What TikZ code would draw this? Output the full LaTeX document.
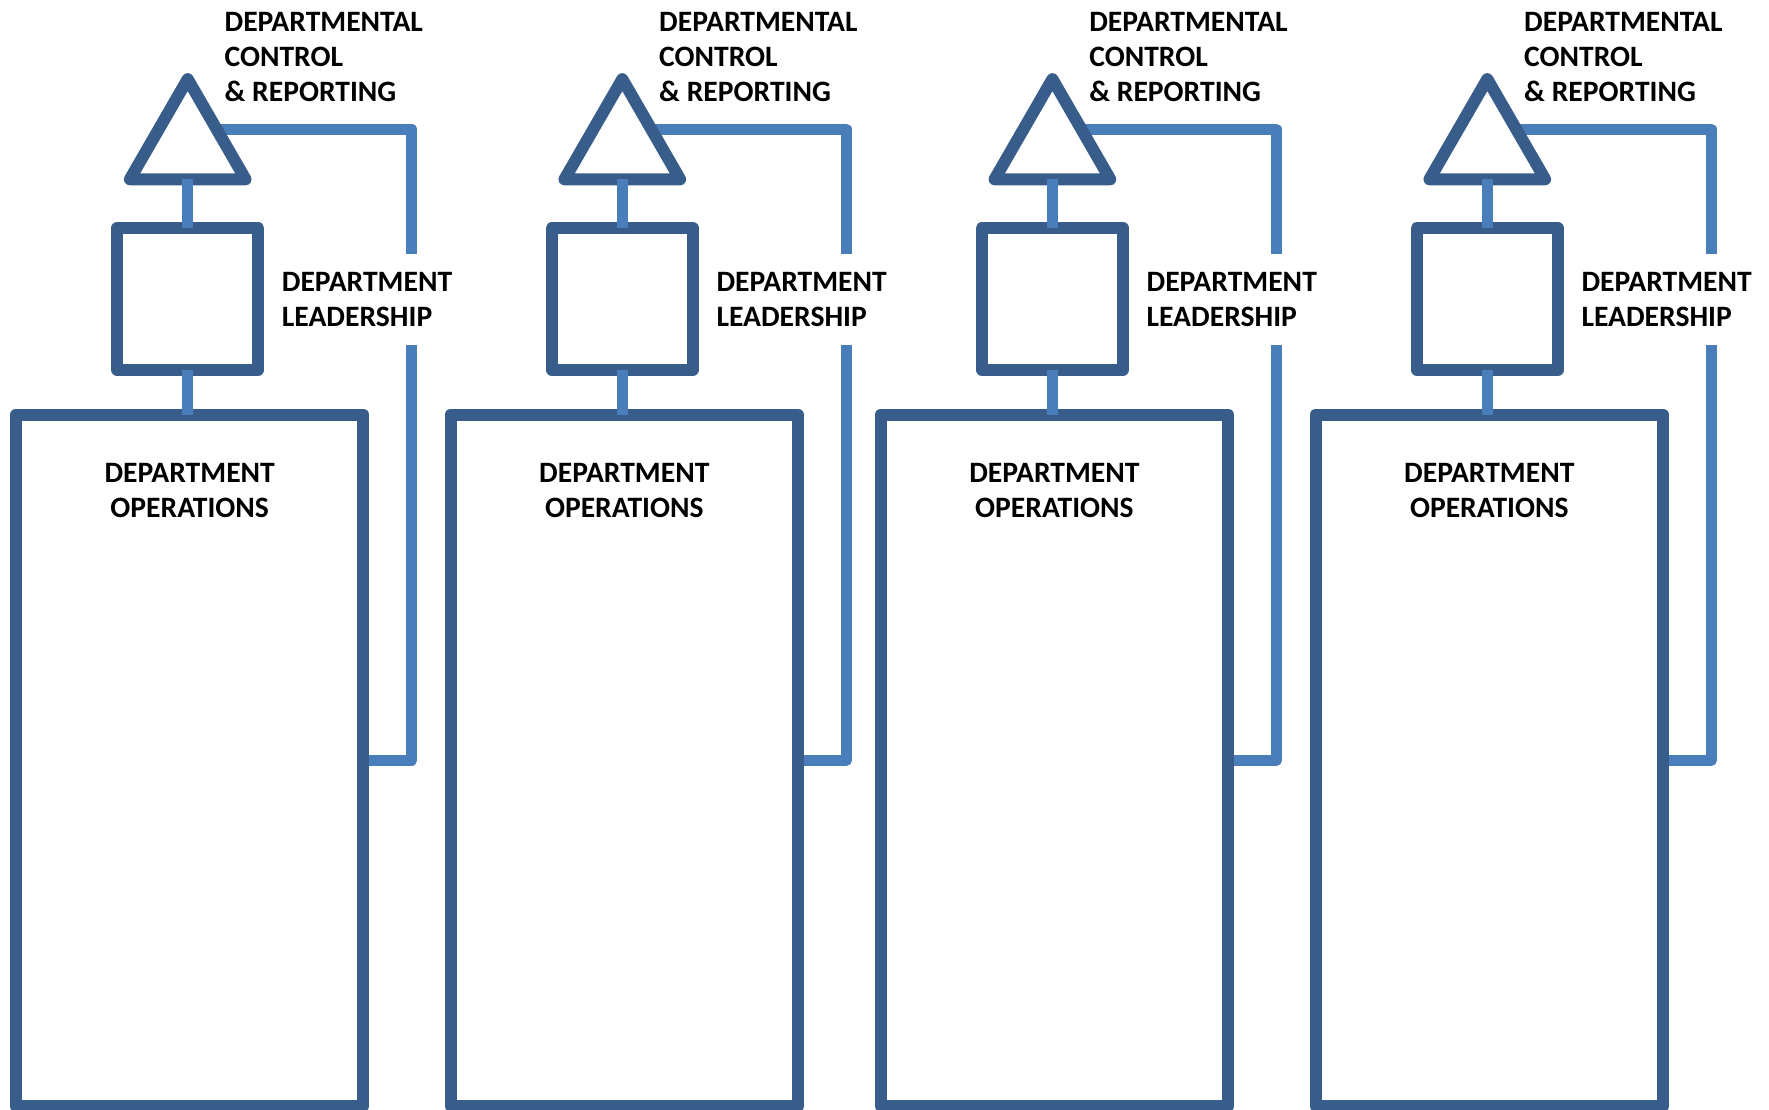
\documentclass[tikz,border=0pt]{standalone}
\usepackage{fontspec}
\setmainfont{Carlito}
\usetikzlibrary{shapes.geometric}
\pgfdeclarelayer{back}
\pgfsetlayers{back,main}
\definecolor{shapeblue}{HTML}{385D8A}
\definecolor{linkblue}{HTML}{4A7EBB}
\tikzset{
  outline/.style={draw=shapeblue, line width=12pt, line join=round, fill=white,
    inner sep=0pt, outer sep=0pt},
  ctrltri/.style={outline, regular polygon, regular polygon sides=3, minimum size=133.6pt},
  leadbox/.style={outline, rectangle, minimum width=141.5pt, minimum height=141.2pt},
  opsbox/.style={outline, rectangle, minimum width=347.5pt, minimum height=691.5pt},
  link/.style={draw=linkblue, line width=11.5pt},
  feedback/.style={draw=linkblue, line width=11pt, line join=round},
  lbl/.style={font=\bfseries\fontsize{29.6}{35}\selectfont, inner sep=0pt, align=left},
}
\begin{document}
\begin{tikzpicture}[x=1pt,y=-1pt]
\clip (0,0) rectangle (1769,1109);
\foreach \i/\a in {1/187.7, 2/622.3, 3/1052.4, 4/1487.3} {
  % the three stacked shapes of one department
  \node[ctrltri] (tri\i) at (\a,145.9) {};
  \node[leadbox] (lead\i) at (\a,298.9) {};
  \node[opsbox] (ops\i) at (\a+2,760.25) {};
  % short links between the shapes
  \draw[link] (tri\i.side 2) -- (lead\i.north);
  \draw[link] (lead\i.south) -- (lead\i.south |- ops\i.north);
  % feedback loop from operations back to control, broken by the label
  \coordinate (fbtop\i) at (\a+224,253.5);
  \coordinate (fbbot\i) at (\a+224,345);
  \begin{pgfonlayer}{back}
    \draw[feedback] (tri\i.side 3) -- (tri\i.side 3 -| fbtop\i) -- (fbtop\i);
    \draw[feedback] (fbbot\i) -- (fbbot\i |- ops\i.east) -- (ops\i.east);
  \end{pgfonlayer}
  % labels (base anchor sits on the last line)
  \node[lbl, anchor=base west] (ctl\i) at (\a+36.7,101) {DEPARTMENTAL\\CONTROL\\\& REPORTING};
  \node[lbl, anchor=base west] (ldr\i) at (\a+94,326) {DEPARTMENT\\LEADERSHIP};
  \node[lbl, align=center, anchor=base] (opl\i) at (\a+2,517) {DEPARTMENT\\OPERATIONS};
}
\end{tikzpicture}
\end{document}
